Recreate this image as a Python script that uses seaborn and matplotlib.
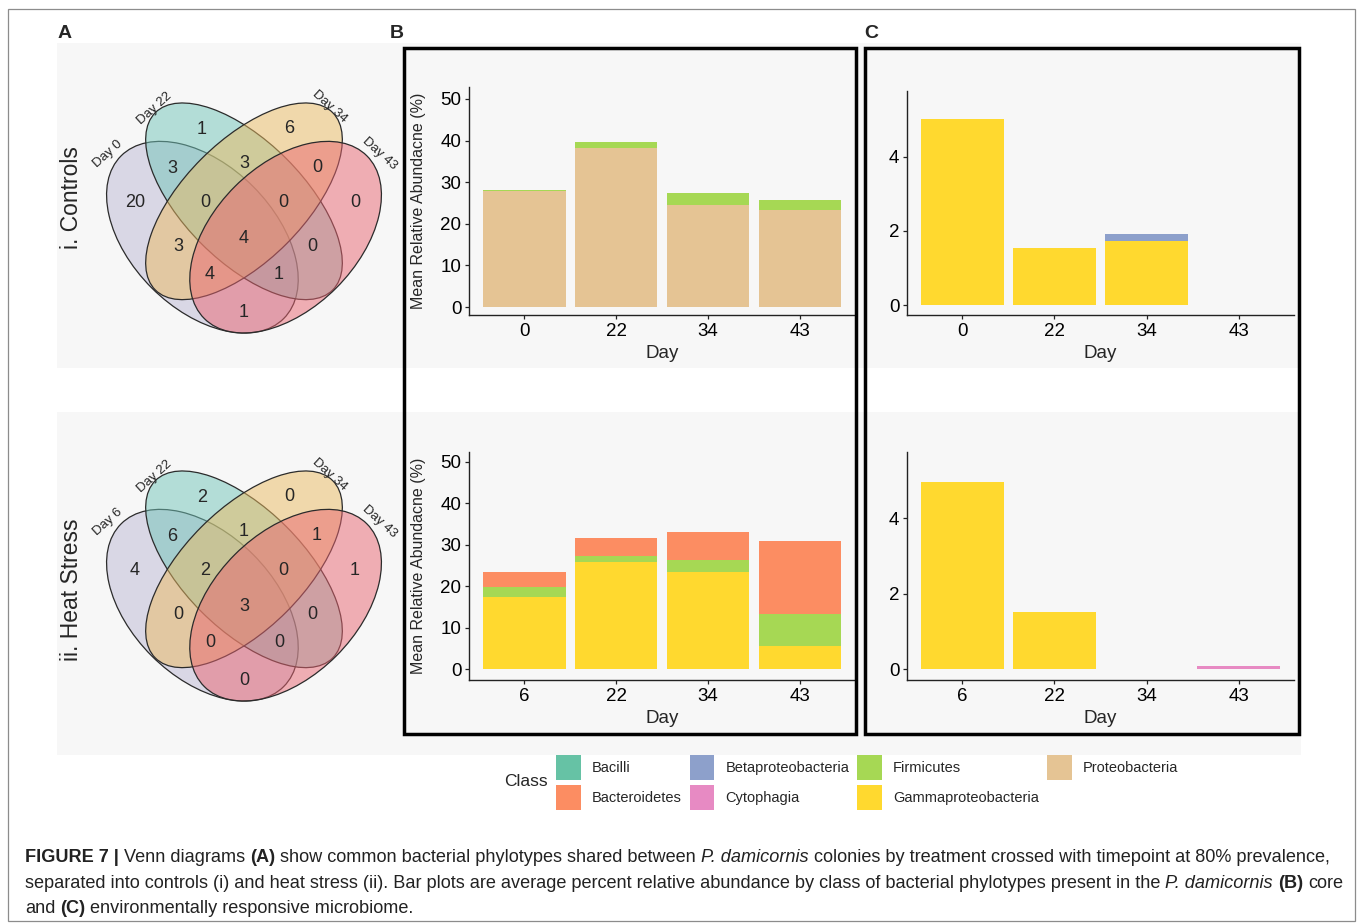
import numpy as np
import pandas as pd
import matplotlib
matplotlib.use("Agg")
import matplotlib.pyplot as plt
from matplotlib.patches import Ellipse, Rectangle, Patch
from matplotlib.colors import to_rgba
import seaborn as sns

W, H = 1358, 924

# ------------------------------------------------------------------ data
classes = ["Bacilli", "Bacteroidetes", "Betaproteobacteria", "Cytophagia",
           "Firmicutes", "Gammaproteobacteria", "Proteobacteria"]
stack_order = ["Proteobacteria", "Gammaproteobacteria", "Firmicutes", "Cytophagia",
               "Betaproteobacteria", "Bacteroidetes", "Bacilli"]

control_days = ["0", "22", "34", "43"]
heat_days = ["6", "22", "34", "43"]

core_ctrl_proteobacteria = [27.8, 38.3, 24.6, 23.4]
core_ctrl_firmicutes = [0.3, 1.4, 2.9, 2.4]

core_heat_gammaproteobacteria = [17.5, 25.8, 23.4, 5.5]
core_heat_firmicutes = [2.4, 1.5, 2.8, 7.8]
core_heat_bacteroidetes = [3.6, 4.4, 6.9, 17.7]

env_ctrl_gammaproteobacteria = [5.03, 1.54, 1.74, 0.0]
env_ctrl_betaproteobacteria = [0.0, 0.0, 0.18, 0.0]

env_heat_gammaproteobacteria = [4.96, 1.52, 0.0, 0.0]
env_heat_cytophagia = [0.0, 0.0, 0.0, 0.1]

venn_regions = ["A", "B", "C", "D", "AB", "BC", "CD", "ABC", "BCD",
                "AC", "ABCD", "BD", "ACD", "ABD", "AD"]
venn_ctrl_counts = [20, 1, 6, 0, 3, 3, 0, 0, 0, 3, 4, 0, 4, 1, 1]
venn_heat_counts = [4, 2, 0, 1, 6, 1, 1, 2, 0, 0, 3, 0, 0, 0, 0]
venn_ctrl_sets = ["Day 0", "Day 22", "Day 34", "Day 43"]
venn_heat_sets = ["Day 6", "Day 22", "Day 34", "Day 43"]

# ------------------------------------------------------------------ style
sns.set_style("ticks")
plt.rcParams["font.family"] = ["Liberation Sans", "DejaVu Sans"]
palette = dict(zip(classes, sns.color_palette("Set2", 7)))

fig = plt.figure(figsize=(W / 100, H / 100), dpi=100, facecolor="white")


def fx(px):
    return px / W


def fy(py):
    return 1 - py / H


def px_axes(l, t, r, b):
    return fig.add_axes([fx(l), fy(b), (r - l) / W, (b - t) / H])


# backgrounds, border
fig.patches.append(Rectangle((fx(8), fy(921)), (1355 - 8) / W, (921 - 9) / H,
                             transform=fig.transFigure, fill=False,
                             edgecolor="#8c8c8c", lw=0.9, zorder=-2))
for t, b in [(43, 368), (412, 755)]:
    fig.patches.append(Rectangle((fx(57), fy(b)), (1301 - 57) / W, (b - t) / H,
                                 transform=fig.transFigure, facecolor="#f7f7f7",
                                 edgecolor="none", zorder=-1))
for l, r in [(403.5, 855.5), (865.5, 1299.5)]:
    fig.patches.append(Rectangle((fx(l), fy(733.5)), (r - l) / W, (733.5 - 47.5) / H,
                                 transform=fig.transFigure, fill=False,
                                 edgecolor="black", lw=2.5, zorder=10))

# panel letters and row labels
for s, x in [("A", 65), ("B", 397), ("C", 871)]:
    fig.text(fx(x), fy(33), s, fontsize=14, fontweight="bold", ha="center", va="center")
fig.text(fx(72), fy(198), "i. Controls", rotation=90, fontsize=16.5, ha="center", va="center")
fig.text(fx(72), fy(590), "ii. Heat Stress", rotation=90, fontsize=16.5, ha="center", va="center")

# ------------------------------------------------------------------ venn
VENN_ELLIPSES = [  # cx, cy, semi-major, semi-minor, angle (px units, y up)
    (-41.6, -35.9, 115.0, 71.7, 135),
    (0.0, 0.0, 125.4, 60.1, 135),
    (0.0, 0.0, 125.4, 60.1, 45),
    (41.6, -35.9, 115.0, 71.7, 45),
]
VENN_FILLS = ["#BDB9D5", "#71C5B9", "#EBBB61", "#E96571"]
REGION_POS = {"A": (-109, -1), "B": (-42, 72), "C": (45, 73), "D": (111, -1),
              "AB": (-72, 33), "BC": (0, 38), "CD": (73, 34), "ABC": (-38.5, -1),
              "BCD": (39.5, -1), "AC": (-66, -45.5), "ABCD": (0, -37), "BD": (68, -45.5),
              "ACD": (-34, -73.5), "ABD": (35, -73.5), "AD": (0, -111)}
SET_LABEL_POS = [(-136, 47, 42), (-89, 93, 42), (86, 95, -42), (136, 48, -42)]


def draw_venn(cx_px, cy_px, set_names, counts):
    half = 175
    ax = fig.add_axes([fx(cx_px - half), fy(cy_px + half), 2 * half / W, 2 * half / H])
    ax.set_xlim(-half, half)
    ax.set_ylim(-half, half)
    ax.axis("off")
    for (ex, ey, a, b, ang), col in zip(VENN_ELLIPSES, VENN_FILLS):
        ax.add_patch(Ellipse((ex, ey), 2 * a, 2 * b, angle=ang,
                             facecolor=to_rgba(col, 0.5), edgecolor="#2b2b2b", lw=0.9))
    for reg, n in zip(venn_regions, counts):
        x, y = REGION_POS[reg]
        ax.text(x, y, str(n), fontsize=13, ha="center", va="center")
    for name, (x, y, rot) in zip(set_names, SET_LABEL_POS):
        ax.text(x, y, name, fontsize=9.5, rotation=rot, ha="center", va="center",
                rotation_mode="anchor")


draw_venn(244, 201.3, venn_ctrl_sets, venn_ctrl_counts)
draw_venn(244, 569.3, venn_heat_sets, venn_heat_counts)

# ------------------------------------------------------------------ bars


def stacked_bars(ax, days, layers):
    rows = []
    for cls, vals in layers.items():
        for d, v in zip(days, vals):
            rows.append((d, cls, v))
    df = pd.DataFrame(rows, columns=["Day", "Class", "Value"])
    wide = df.pivot(index="Day", columns="Class", values="Value").reindex(days)
    present = [c for c in stack_order if c in wide.columns]
    cum = wide[present].cumsum(axis=1)
    for cls in reversed(present):
        sns.barplot(x=days, y=cum[cls].values, order=days, color=palette[cls],
                    saturation=1, width=0.9, errorbar=None, ax=ax, linewidth=0)


def style_axes(ax, ylim, yticks, xlabels, ylabel=None):
    ax.set_facecolor("none")
    ax.set_xlim(-0.6, 3.6)
    ax.set_ylim(*ylim)
    ax.set_yticks(yticks)
    ax.set_xticks(range(len(xlabels)))
    ax.set_xticklabels(xlabels)
    sns.despine(ax=ax)
    for s in ["left", "bottom"]:
        ax.spines[s].set_linewidth(1.0)
        ax.spines[s].set_color("#222222")
    ax.tick_params(labelsize=13.5, length=3, width=0.9, pad=2.5, colors="#222222",
                   labelcolor="black")
    ax.set_xlabel("Day", fontsize=13.5, labelpad=4)
    ax.set_ylabel(ylabel if ylabel else "", fontsize=11.5, labelpad=10)


ylab = "Mean Relative Abundacne (%)"

ax1 = px_axes(469, 87, 855, 315)
stacked_bars(ax1, control_days, {"Proteobacteria": core_ctrl_proteobacteria,
                                 "Firmicutes": core_ctrl_firmicutes})
style_axes(ax1, (-1.92, 52.88), [0, 10, 20, 30, 40, 50], control_days, ylab)

ax2 = px_axes(469, 451.7, 855, 680)
stacked_bars(ax2, heat_days, {"Gammaproteobacteria": core_heat_gammaproteobacteria,
                              "Firmicutes": core_heat_firmicutes,
                              "Bacteroidetes": core_heat_bacteroidetes})
style_axes(ax2, (-2.58, 52.4), [0, 10, 20, 30, 40, 50], heat_days, ylab)

ax3 = px_axes(907, 91, 1294, 315)
stacked_bars(ax3, control_days, {"Gammaproteobacteria": env_ctrl_gammaproteobacteria,
                                 "Betaproteobacteria": env_ctrl_betaproteobacteria})
style_axes(ax3, (-0.27, 5.78), [0, 2, 4], control_days)

ax4 = px_axes(907, 451.7, 1294, 680)
stacked_bars(ax4, heat_days, {"Gammaproteobacteria": env_heat_gammaproteobacteria,
                              "Cytophagia": env_heat_cytophagia})
style_axes(ax4, (-0.28, 5.76), [0, 2, 4], heat_days)

# ------------------------------------------------------------------ legend
handles = [Patch(facecolor=palette[c], edgecolor="none", label=c) for c in classes]
fig.legend(handles=handles, ncol=4, loc="upper left",
           bbox_to_anchor=(fx(556), fy(755)), frameon=False, fontsize=10.5,
           handlelength=1.7, handleheight=2.25, handletextpad=0.75,
           columnspacing=0.55, labelspacing=0.35, borderpad=0, borderaxespad=0)
fig.text(fx(526), fy(781), "Class", fontsize=12.5, ha="center", va="center")

# ------------------------------------------------------------------ caption
renderer = fig.canvas.get_renderer()
caption_lines = [
    [("FIGURE 7 |", "b"), ("Venn diagrams", "n"), ("(A)", "b"),
     ("show common bacterial phylotypes shared between", "n"), ("P. damicornis", "i"),
     ("colonies by treatment crossed with timepoint at 80% prevalence,", "n")],
    [("separated into controls (i) and heat stress (ii). Bar plots are average percent "
      "relative abundance by class of bacterial phylotypes present in the", "n"),
     ("P. damicornis", "i"), ("(B)", "b"), ("core", "n")],
    [("and", "n"), ("(C)", "b"), ("environmentally responsive microbiome.", "n")],
]


def style_kw(st, fs):
    return dict(fontsize=fs, fontweight="bold" if st == "b" else "normal",
                fontstyle="italic" if st == "i" else "normal")


def measure(s, st, fs):
    t = fig.text(0, 0, s, **style_kw(st, fs))
    w = t.get_window_extent(renderer).width
    t.remove()
    return w


def line_width(segs, fs):
    sp = measure("a a", "n", fs) - measure("aa", "n", fs)
    return sum(measure(s, st, fs) for s, st in segs) + sp * (len(segs) - 1)


base_fs = 12.0
cap_fs = base_fs * (1333 - 25) / line_width(caption_lines[0], base_fs)
space = measure("a a", "n", cap_fs) - measure("aa", "n", cap_fs)
for baseline, segs in zip([862, 888, 913], caption_lines):
    x = 25.0
    for s, st in segs:
        t = fig.text(fx(x), fy(baseline), s, ha="left", va="baseline",
                     color="#222222", **style_kw(st, cap_fs))
        x += t.get_window_extent(renderer).width + space

fig.savefig("out.png", dpi=100, facecolor="white")
